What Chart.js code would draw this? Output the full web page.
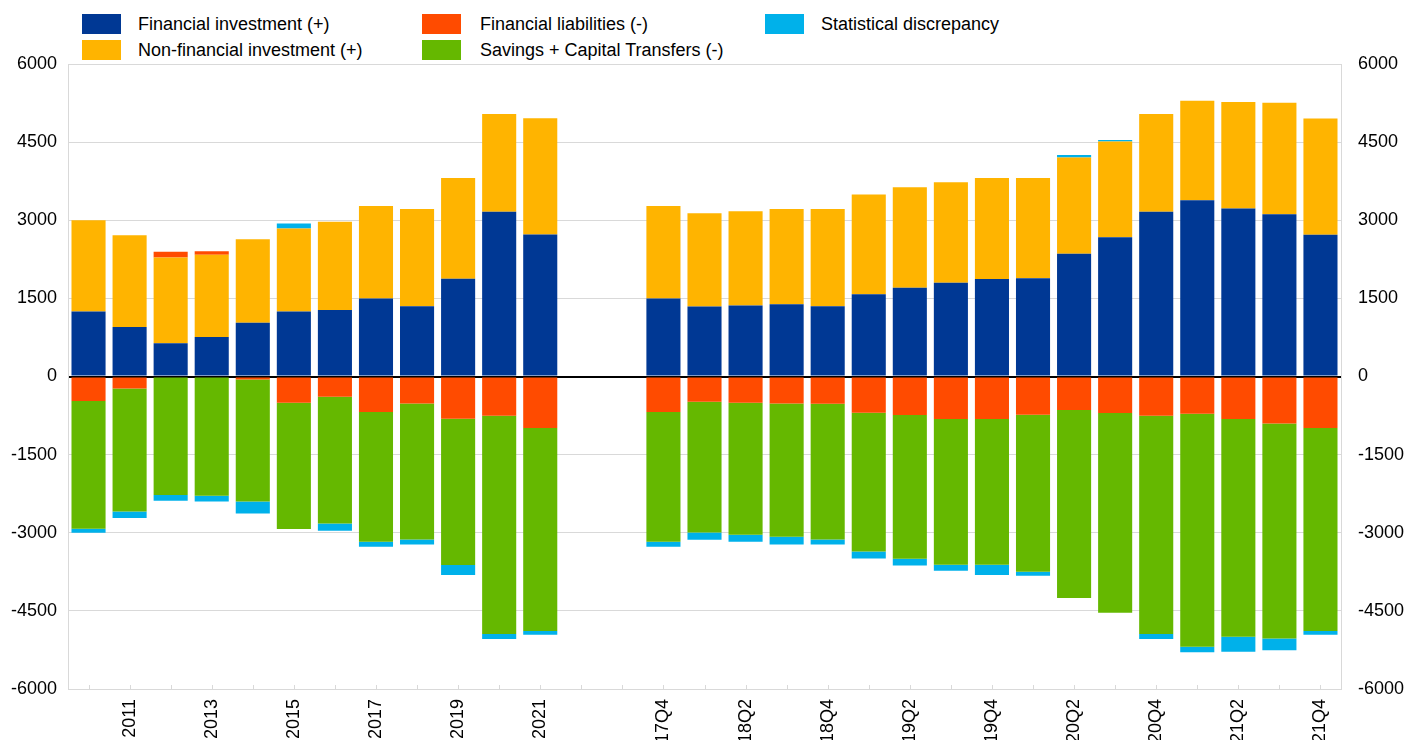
<!DOCTYPE html>
<html>
<head>
<meta charset="utf-8">
<script src="https://cdn.jsdelivr.net/npm/chart.js@4"></script>
<style>
    html, body { margin: 0; padding: 0; background: #fff; overflow: hidden; }
    body { width: 1404px; height: 740px; position: relative; font-family: Arial, "Liberation Sans", sans-serif; }
    #wrap { position: absolute; left: 0; top: 0; width: 1404px; height: 760px; }
    .legend-item { position: absolute; height: 20px; font-size: 18px; color: #000; white-space: nowrap; }
    .legend-item .box { position: absolute; left: 0; top: 0; width: 39px; height: 20px; }
    .legend-item .txt { position: absolute; top: 0; line-height: 20px; }
</style>
</head>
<body>
<div id="legend"></div>
<div id="wrap"><canvas id="chart"></canvas></div>
<script>
// === Data ===
const categories = ['2010', '2011', '2012', '2013', '2014', '2015', '2016', '2017', '2018', '2019', '2020', '2021',
    '', '',
    '17Q4', '18Q1', '18Q2', '18Q3', '18Q4', '19Q1', '19Q2', '19Q3', '19Q4',
    '20Q1', '20Q2', '20Q3', '20Q4', '21Q1', '21Q2', '21Q3', '21Q4'];

const tickLabels = ['', '2011', '', '2013', '', '2015', '', '2017', '', '2019', '', '2021',
    '', '',
    '17Q4', '', '18Q2', '', '18Q4', '', '19Q2', '', '19Q4',
    '', '20Q2', '', '20Q4', '', '21Q2', '', '21Q4'];

const financialInvestment = [1250, 950, 640, 760, 1030, 1250, 1275, 1497, 1351, 1875, 3161, 2725,
    null, null,
    1497, 1343, 1362, 1389, 1351, 1581, 1702, 1798, 1872,
    1888, 2355, 2675, 3161, 3385, 3224, 3116, 2720];

const nonFinancialInvestment = [1750, 1760, 1644, 1580, 1606, 1590, 1694, 1779, 1867, 1938, 1880, 2233,
    null, null,
    1779, 1793, 1812, 1829, 1867, 1912, 1932, 1932, 1941,
    1925, 1848, 1835, 1880, 1911, 2048, 2142, 2232];

const financialLiabilities = [-472, -230, 110, 65, -58, -505, -390, -683, -518, -812, -754, -990,
    null, null,
    -683, -486, -505, -518, -524, -697, -741, -818, -815,
    -735, -645, -703, -754, -716, -818, -902, -990];

const savingsCapitalTransfers = [-2451, -2360, -2276, -2290, -2341, -2424, -2431, -2489, -2610, -2807, -4189, -3896,
    null, null,
    -2489, -2507, -2533, -2558, -2604, -2661, -2757, -2795, -2800,
    -3013, -3608, -3832, -4189, -4471, -4177, -4126, -3896];

const statisticalDiscrepancy = [-76, -128, -110, -109, -230, 96, -140, -96, -96, -192, -96, -71,
    null, null,
    -96, -141, -134, -148, -96, -135, -129, -116, -196,
    -77, 51, 32, -96, -109, -288, -230, -71];

const yTicks = { min: -6000, max: 6000, step: 1500 };

// === Legend (three columns, filled column by column) ===
const legendItems = [
    { label: 'Financial investment (+)', color: '#003894', x: 82, y: 14, tx: 56 },
    { label: 'Non-financial investment (+)', color: '#ffb400', x: 82, y: 40, tx: 56 },
    { label: 'Financial liabilities (-)', color: '#ff4b00', x: 422, y: 14, tx: 58 },
    { label: 'Savings + Capital Transfers (-)', color: '#65b800', x: 422, y: 40, tx: 58 },
    { label: 'Statistical discrepancy', color: '#00b1ea', x: 765, y: 14, tx: 56 }
];
const legendEl = document.getElementById('legend');
legendItems.forEach(function (item) {
    const div = document.createElement('div');
    div.className = 'legend-item';
    div.style.left = item.x + 'px';
    div.style.top = item.y + 'px';
    div.innerHTML = '<span class="box" style="background:' + item.color + '"></span>' +
        '<span class="txt" style="left:' + item.tx + 'px">' + item.label + '</span>';
    legendEl.appendChild(div);
});

// small tick marks inside the bottom edge of the plot
const innerTicks = {
    id: 'innerTicks',
    afterDatasetsDraw(chart) {
        const ctx = chart.ctx;
        const xScale = chart.scales.x;
        const bottom = chart.chartArea.bottom;
        ctx.save();
        ctx.strokeStyle = '#d9d9d9';
        ctx.lineWidth = 1;
        ctx.beginPath();
        for (let i = 0; i < categories.length; i++) {
            const x = Math.round(xScale.getPixelForValue(i)) + 0.5;
            ctx.moveTo(x, bottom - 4);
            ctx.lineTo(x, bottom);
        }
        ctx.stroke();
        ctx.restore();
    }
};

const fontSpec = { family: 'Arial, "Liberation Sans", sans-serif', size: 18 };

function gridColor(context) {
    return context.tick && context.tick.value === 0 ? '#000000' : '#d9d9d9';
}
function gridWidth(context) {
    return context.tick && context.tick.value === 0 ? 2 : 1;
}
function plainNumber(value) {
    return String(value);
}

const ctx = document.getElementById('chart').getContext('2d');
new Chart(ctx, {
    type: 'bar',
    data: {
        labels: categories,
        datasets: [
            { label: 'Financial investment (+)', data: financialInvestment, backgroundColor: '#003894' },
            { label: 'Non-financial investment (+)', data: nonFinancialInvestment, backgroundColor: '#ffb400' },
            { label: 'Financial liabilities (-)', data: financialLiabilities, backgroundColor: '#ff4b00' },
            { label: 'Savings + Capital Transfers (-)', data: savingsCapitalTransfers, backgroundColor: '#65b800' },
            { label: 'Statistical discrepancy', data: statisticalDiscrepancy, backgroundColor: '#00b1ea' }
        ]
    },
    options: {
        responsive: true,
        maintainAspectRatio: false,
        animation: false,
        datasets: {
            bar: { categoryPercentage: 0.83, barPercentage: 1, borderWidth: 0 }
        },
        layout: { padding: { top: 64, left: 0, right: 0, bottom: 0 } },
        plugins: {
            legend: { display: false },
            tooltip: { enabled: false }
        },
        scales: {
            x: {
                stacked: true,
                grid: { display: false },
                border: { display: false },
                ticks: {
                    autoSkip: false,
                    maxRotation: 90,
                    minRotation: 90,
                    padding: 2,
                    color: '#000',
                    font: fontSpec,
                    callback: function (value, index) { return tickLabels[index]; }
                },
                afterFit: function (scale) { scale.height = 71; }
            },
            y: {
                stacked: true,
                position: 'left',
                min: yTicks.min,
                max: yTicks.max,
                ticks: { stepSize: yTicks.step, padding: 11, color: '#000', font: fontSpec, callback: plainNumber },
                grid: { color: gridColor, lineWidth: gridWidth, drawTicks: false },
                border: { display: true, color: '#d9d9d9' },
                afterFit: function (scale) { scale.width = 68; }
            },
            y2: {
                position: 'right',
                min: yTicks.min,
                max: yTicks.max,
                ticks: { stepSize: yTicks.step, padding: 17, color: '#000', font: fontSpec, callback: plainNumber },
                grid: { drawOnChartArea: false, drawTicks: false },
                border: { display: true, color: '#d9d9d9' },
                afterFit: function (scale) { scale.width = 63; }
            }
        }
    },
    plugins: [innerTicks]
});
</script>
</body>
</html>
